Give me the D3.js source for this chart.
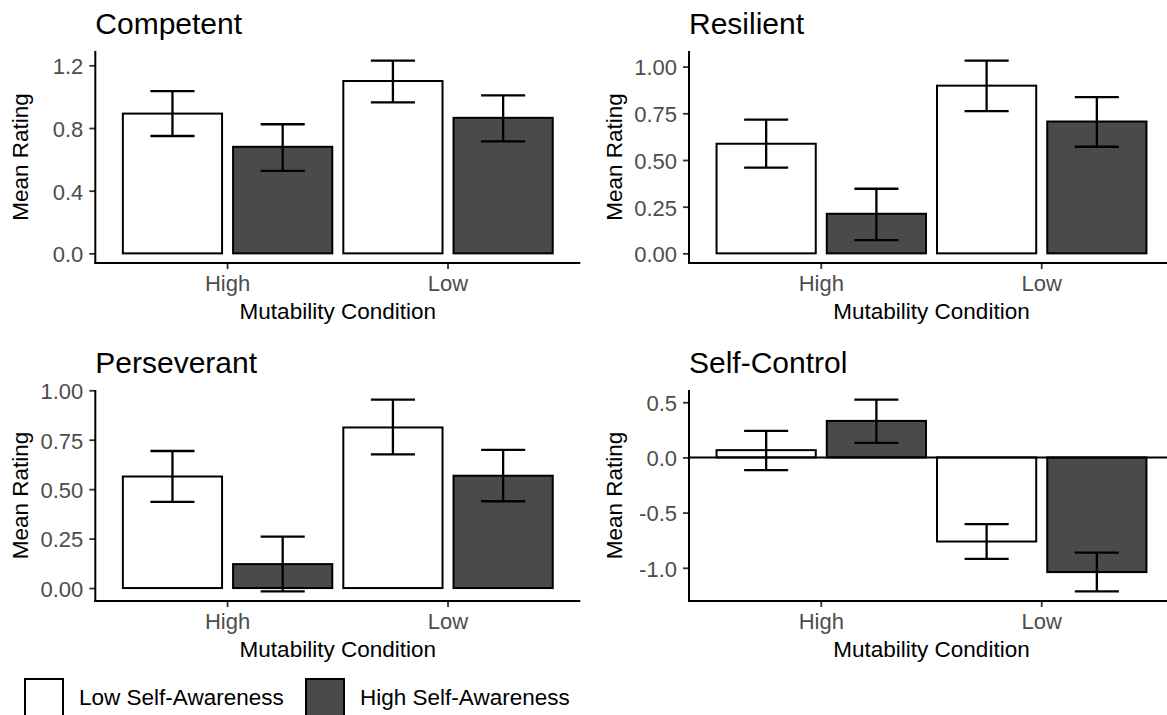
<!DOCTYPE html>
<html>
<head>
<meta charset="utf-8">
<script src="https://cdn.jsdelivr.net/npm/d3@7"></script>
<style>
  html, body { margin: 0; padding: 0; background: #ffffff; }
  svg { display: block; font-family: "Liberation Sans", Arial, sans-serif; }
</style>
</head>
<body>
<svg id="chart" width="1167" height="715"></svg>
<script>
// ---------------- DATA ----------------
const categories = ["High", "Low"];               // Mutability Condition
const groups = ["Low Self-Awareness", "High Self-Awareness"];
const groupFills = ["#ffffff", "#4a4a4a"];

const panelTitles = ["Competent", "Resilient", "Perseverant", "Self-Control"];

// means per group, ordered by categories (High, Low)
const competentLowSA   = [0.892, 1.100];
const competentHighSA  = [0.680, 0.865];
const competentLowSALo = [0.749, 0.963];
const competentLowSAHi = [1.036, 1.230];
const competentHighSALo = [0.526, 0.715];
const competentHighSAHi = [0.824, 1.008];

const resilientLowSA   = [0.587, 0.898];
const resilientHighSA  = [0.212, 0.706];
const resilientLowSALo = [0.459, 0.762];
const resilientLowSAHi = [0.716, 1.032];
const resilientHighSALo = [0.071, 0.571];
const resilientHighSAHi = [0.346, 0.837];

const perseverantLowSA   = [0.564, 0.812];
const perseverantHighSA  = [0.121, 0.568];
const perseverantLowSALo = [0.436, 0.676];
const perseverantLowSAHi = [0.693, 0.953];
const perseverantHighSALo = [-0.017, 0.439];
const perseverantHighSAHi = [0.260, 0.699];

const selfControlLowSA   = [0.066, -0.762];
const selfControlHighSA  = [0.331, -1.039];
const selfControlLowSALo = [-0.115, -0.919];
const selfControlLowSAHi = [0.240, -0.605];
const selfControlHighSALo = [0.132, -1.214];
const selfControlHighSAHi = [0.524, -0.862];

// tick values and labels
const competentTicks = [0, 0.4, 0.8, 1.2];
const competentTickLabels = ["0.0", "0.4", "0.8", "1.2"];
const resilientTicks = [0, 0.25, 0.5, 0.75, 1.0];
const resilientTickLabels = ["0.00", "0.25", "0.50", "0.75", "1.00"];
const perseverantTicks = [0, 0.25, 0.5, 0.75, 1.0];
const perseverantTickLabels = ["0.00", "0.25", "0.50", "0.75", "1.00"];
const selfControlTicks = [-1.0, -0.5, 0, 0.5];
const selfControlTickLabels = ["-1.0", "-0.5", "0.0", "0.5"];

const xAxisTitle = "Mutability Condition";
const yAxisTitle = "Mean Rating";

// ---------------- BUILD PANELS ----------------
function buildPanel(title, lowM, highM, lowLo, lowHi, highLo, highHi, ticks, tickLabels, zeroLine) {
  const rows = [];
  categories.forEach((c, i) => {
    rows.push({cat: c, grp: groups[0], mean: lowM[i], lo: lowLo[i], hi: lowHi[i]});
    rows.push({cat: c, grp: groups[1], mean: highM[i], lo: highLo[i], hi: highHi[i]});
  });
  return {title, rows, ticks, tickLabels, zeroLine};
}

const panels = [
  buildPanel(panelTitles[0], competentLowSA, competentHighSA, competentLowSALo, competentLowSAHi, competentHighSALo, competentHighSAHi, competentTicks, competentTickLabels, false),
  buildPanel(panelTitles[1], resilientLowSA, resilientHighSA, resilientLowSALo, resilientLowSAHi, resilientHighSALo, resilientHighSAHi, resilientTicks, resilientTickLabels, false),
  buildPanel(panelTitles[2], perseverantLowSA, perseverantHighSA, perseverantLowSALo, perseverantLowSAHi, perseverantHighSALo, perseverantHighSAHi, perseverantTicks, perseverantTickLabels, false),
  buildPanel(panelTitles[3], selfControlLowSA, selfControlHighSA, selfControlLowSALo, selfControlLowSAHi, selfControlHighSALo, selfControlHighSAHi, selfControlTicks, selfControlTickLabels, true)
];

// ---------------- LAYOUT ----------------
const colX = [95.3, 689.0];
const panelW = 485;
const rowY = [{top: 51, bottom: 263}, {top: 390, bottom: 601}];

const svg = d3.select("#chart");
const tickColor = "#333333";
const textGray = "#4d4d4d";

panels.forEach((p, idx) => {
  const x0 = colX[idx % 2], x1 = x0 + panelW;
  const r = rowY[Math.floor(idx / 2)];

  // y domain with 5% expansion (ggplot-like)
  let mn = d3.min(p.rows, d => Math.min(0, d.mean, d.lo));
  let mx = d3.max(p.rows, d => Math.max(0, d.mean, d.hi));
  const ex = (mx - mn) * 0.05;
  const y = d3.scaleLinear().domain([mn - ex, mx + ex]).range([r.bottom, r.top]);

  const x = d3.scaleBand().domain(categories).range([x0, x1]).paddingInner(0).paddingOuter(0.1);
  const xg = d3.scaleBand().domain(groups).range([0, x.bandwidth()]).paddingInner(0.1).paddingOuter(0.05);
  const fill = d3.scaleOrdinal().domain(groups).range(groupFills);

  const g = svg.append("g");

  // bars
  g.selectAll("rect.bar").data(p.rows).enter().append("rect")
    .attr("class", "bar")
    .attr("x", d => x(d.cat) + xg(d.grp))
    .attr("width", xg.bandwidth())
    .attr("y", d => y(Math.max(0, d.mean)))
    .attr("height", d => Math.abs(y(d.mean) - y(0)))
    .attr("fill", d => fill(d.grp))
    .attr("stroke", "#000")
    .attr("stroke-width", 2);

  // zero reference line
  if (p.zeroLine) {
    g.append("line")
      .attr("x1", x0).attr("x2", x1)
      .attr("y1", y(0)).attr("y2", y(0))
      .attr("stroke", "#000").attr("stroke-width", 2);
  }

  // error bars
  const capW = x.bandwidth() * 0.2;
  const eb = g.selectAll("g.eb").data(p.rows).enter().append("g").attr("class", "eb");
  const cx = d => x(d.cat) + xg(d.grp) + xg.bandwidth() / 2;
  eb.append("line").attr("x1", cx).attr("x2", cx).attr("y1", d => y(d.lo)).attr("y2", d => y(d.hi))
    .attr("stroke", "#000").attr("stroke-width", 2.3);
  eb.append("line").attr("x1", d => cx(d) - capW / 2).attr("x2", d => cx(d) + capW / 2)
    .attr("y1", d => y(d.lo)).attr("y2", d => y(d.lo)).attr("stroke", "#000").attr("stroke-width", 2.3);
  eb.append("line").attr("x1", d => cx(d) - capW / 2).attr("x2", d => cx(d) + capW / 2)
    .attr("y1", d => y(d.hi)).attr("y2", d => y(d.hi)).attr("stroke", "#000").attr("stroke-width", 2.3);

  // y axis
  const yAxis = d3.axisLeft(y).tickValues(p.ticks).tickSize(6).tickPadding(6)
    .tickFormat((d, i) => p.tickLabels[i]);
  const ya = g.append("g").attr("transform", `translate(${x0},0)`).call(yAxis);
  ya.select(".domain").remove();
  ya.selectAll(".tick line").attr("stroke", tickColor).attr("stroke-width", 1.8);
  ya.selectAll(".tick text").attr("fill", textGray).attr("font-size", 22)
    .attr("font-family", "Liberation Sans, Arial, sans-serif").attr("dy", "0.38em");
  g.append("line").attr("x1", x0).attr("x2", x0).attr("y1", r.top).attr("y2", r.bottom + 1)
    .attr("stroke", "#000").attr("stroke-width", 2);

  // x axis
  const xAxis = d3.axisBottom(x).tickSize(6).tickPadding(6);
  const xa = g.append("g").attr("transform", `translate(0,${r.bottom})`).call(xAxis);
  xa.select(".domain").remove();
  xa.selectAll(".tick line").attr("stroke", tickColor).attr("stroke-width", 1.8);
  xa.selectAll(".tick text").attr("fill", textGray).attr("font-size", 22)
    .attr("font-family", "Liberation Sans, Arial, sans-serif").attr("dy", "0.74em");
  g.append("line").attr("x1", x0 - 1).attr("x2", x1).attr("y1", r.bottom).attr("y2", r.bottom)
    .attr("stroke", "#000").attr("stroke-width", 2);

  // titles
  g.append("text").attr("x", x0).attr("y", r.top - 17.5).text(p.title)
    .attr("font-size", 30).attr("fill", "#000");
  g.append("text").attr("x", (x0 + x1) / 2).attr("y", r.bottom + 56)
    .attr("text-anchor", "middle").attr("font-size", 22.5).attr("fill", "#000").text(xAxisTitle);
  g.append("text").attr("transform", `translate(${x0 - 67},${(r.top + r.bottom) / 2}) rotate(-90)`)
    .attr("text-anchor", "middle").attr("font-size", 22.5).attr("fill", "#000").text(yAxisTitle);
});

// ---------------- LEGEND ----------------
const legendX = [25, 306];
const legend = svg.append("g");
groups.forEach((gname, i) => {
  legend.append("rect").attr("x", legendX[i]).attr("y", 679).attr("width", 38).attr("height", 38)
    .attr("fill", groupFills[i]).attr("stroke", "#000").attr("stroke-width", 2);
  legend.append("text").attr("x", legendX[i] + 54).attr("y", 705).attr("font-size", 22.5)
    .attr("fill", "#000").text(gname);
});
</script>
</body>
</html>
